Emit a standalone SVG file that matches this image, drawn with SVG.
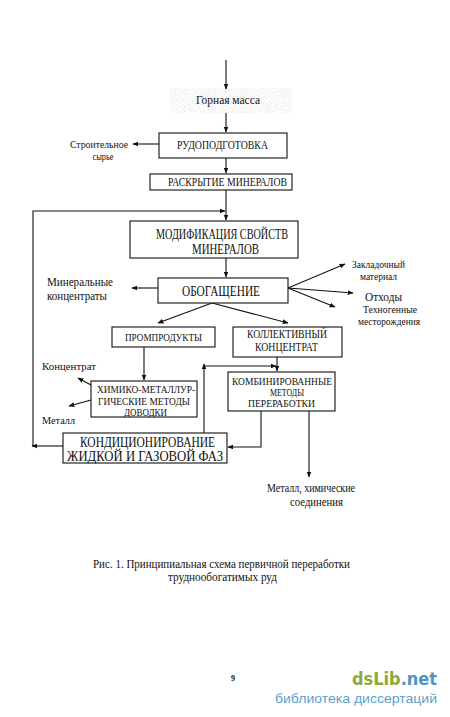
<svg xmlns="http://www.w3.org/2000/svg" width="450" height="717" viewBox="0 0 450 717">
<style>
text{font-family:"Liberation Serif","Times New Roman",serif;fill:#111}
.b{fill:#fff;stroke:#111;stroke-width:1.1}
.s{font-size:10.5px}
.m{font-size:11.5px}
.l{font-size:14px}
.c{text-anchor:middle}
.ln{fill:none;stroke:#111;stroke-width:1.1}
</style>
<defs>
<marker id="a" viewBox="0 0 10 10" refX="9" refY="5" markerWidth="6" markerHeight="6" orient="auto" markerUnits="userSpaceOnUse">
<path d="M0,1 L10,5 L0,9 z" fill="#111"/>
</marker>
<filter id="n" x="0" y="0" width="1" height="1">
<feTurbulence type="fractalNoise" baseFrequency="0.9" numOctaves="2" seed="3"/>
<feColorMatrix type="matrix" values="0 0 0 0 0.5  0 0 0 0 0.5  0 0 0 0 0.5  0 0 0 -2.2 1.35"/>
</filter>
</defs>
<rect width="450" height="717" fill="#fff"/>
<rect x="170" y="88" width="122" height="25" fill="#fff" filter="url(#n)" opacity="0.35"/>

<g id="connectors" class="ln">
<line x1="226" y1="60" x2="226" y2="89" marker-end="url(#a)"/>
<line x1="226" y1="113" x2="226" y2="132" marker-end="url(#a)"/>
<line x1="159" y1="144" x2="133" y2="144" marker-end="url(#a)"/>
<line x1="226" y1="158" x2="226" y2="173" marker-end="url(#a)"/>
<line x1="226" y1="190" x2="226" y2="220" marker-end="url(#a)"/>
<line x1="63" y1="446" x2="32" y2="446" marker-end="url(#a)"/>
<polyline points="33,446 33,211 225,211" marker-end="url(#a)"/>
<line x1="226" y1="258" x2="226" y2="277" marker-end="url(#a)"/>
<line x1="158" y1="288" x2="132" y2="288" marker-end="url(#a)"/>
<line x1="288" y1="288" x2="345" y2="264" marker-end="url(#a)"/>
<line x1="288" y1="288" x2="353" y2="293" marker-end="url(#a)"/>
<line x1="288" y1="288" x2="335" y2="307" marker-end="url(#a)"/>
<line x1="212" y1="303" x2="158" y2="323" marker-end="url(#a)"/>
<line x1="212" y1="303" x2="288" y2="323" marker-end="url(#a)"/>
<line x1="144" y1="347" x2="144" y2="380" marker-end="url(#a)"/>
<line x1="91" y1="385" x2="78" y2="378" marker-end="url(#a)"/>
<line x1="91" y1="400" x2="69" y2="406" marker-end="url(#a)"/>
<line x1="277" y1="357" x2="277" y2="371" marker-end="url(#a)"/>
<line x1="204" y1="433" x2="204" y2="364" marker-end="url(#a)"/>
<line x1="204" y1="366" x2="276" y2="366" marker-end="url(#a)"/>
<polyline points="261,411 261,447 228,447" marker-end="url(#a)"/>
<line x1="309" y1="411" x2="309" y2="477" marker-end="url(#a)"/>
</g>

<g id="gornaya">
<text x="228" y="104" class="m c" textLength="64" lengthAdjust="spacingAndGlyphs">Горная масса</text>
</g>
<g id="rudopodgotovka">
<rect class="b" x="159" y="133" width="128" height="25"/>
<text x="222.5" y="149" class="m c" textLength="91" lengthAdjust="spacingAndGlyphs">РУДОПОДГОТОВКА</text>
</g>
<g id="stroit">
<text x="99" y="148" class="s c" textLength="58" lengthAdjust="spacingAndGlyphs">Строительное</text>
<text x="103" y="160" class="s c" textLength="21" lengthAdjust="spacingAndGlyphs">сырье</text>
</g>
<g id="raskrytie">
<rect class="b" x="150" y="174" width="142" height="16"/>
<text x="227.5" y="186" class="m c" textLength="119" lengthAdjust="spacingAndGlyphs">РАСКРЫТИЕ МИНЕРАЛОВ</text>
</g>
<g id="modifikaciya">
<rect class="b" x="130" y="221" width="168" height="37"/>
<text x="222" y="239" class="l c" textLength="132" lengthAdjust="spacingAndGlyphs">МОДИФИКАЦИЯ СВОЙСТВ</text>
<text x="225.5" y="254" class="l c" textLength="67" lengthAdjust="spacingAndGlyphs">МИНЕРАЛОВ</text>
</g>
<g id="obogashchenie">
<rect class="b" x="158" y="278" width="130" height="25"/>
<text x="221" y="296" class="l c" textLength="78" lengthAdjust="spacingAndGlyphs">ОБОГАЩЕНИЕ</text>
</g>
<g id="mineral">
<text x="47" y="286" class="m" textLength="66" lengthAdjust="spacingAndGlyphs">Минеральные</text>
<text x="47" y="300" class="m" textLength="60" lengthAdjust="spacingAndGlyphs">концентраты</text>
</g>
<g id="zaklad">
<text x="352" y="268" class="s" textLength="53" lengthAdjust="spacingAndGlyphs">Закладочный</text>
<text x="360" y="280" class="s" textLength="37" lengthAdjust="spacingAndGlyphs">материал</text>
</g>
<g id="othody">
<text x="365" y="301" style="font-size:13px" textLength="37" lengthAdjust="spacingAndGlyphs">Отходы</text>
</g>
<g id="tehnogen">
<text x="363" y="313" class="s" textLength="54" lengthAdjust="spacingAndGlyphs">Техногенные</text>
<text x="358" y="325" class="s" textLength="62" lengthAdjust="spacingAndGlyphs">месторождения</text>
</g>
<g id="promprodukty">
<rect class="b" x="112" y="327" width="103" height="20"/>
<text x="163.5" y="341" class="s c" textLength="77" lengthAdjust="spacingAndGlyphs">ПРОМПРОДУКТЫ</text>
</g>
<g id="kollektivny">
<rect class="b" x="233" y="327" width="109" height="30"/>
<text x="287" y="338" class="m c" textLength="80" lengthAdjust="spacingAndGlyphs">КОЛЛЕКТИВНЫЙ</text>
<text x="286.5" y="351" class="m c" textLength="63" lengthAdjust="spacingAndGlyphs">КОНЦЕНТРАТ</text>
</g>
<g id="himiko">
<rect class="b" x="91" y="381" width="106" height="36"/>
<text x="146" y="393" class="s c" textLength="98" lengthAdjust="spacingAndGlyphs">ХИМИКО-МЕТАЛЛУР-</text>
<text x="144" y="405" class="s c" textLength="92" lengthAdjust="spacingAndGlyphs">ГИЧЕСКИЕ МЕТОДЫ</text>
<text x="145.5" y="416" class="s c" textLength="43" lengthAdjust="spacingAndGlyphs">ДОВОДКИ</text>
</g>
<g id="koncentrat">
<text x="42" y="370" class="s" textLength="54" lengthAdjust="spacingAndGlyphs">Концентрат</text>
</g>
<g id="metall">
<text x="42" y="424" class="s" textLength="33" lengthAdjust="spacingAndGlyphs">Металл</text>
</g>
<g id="kombinirovannye">
<rect class="b" x="228" y="372" width="107" height="39"/>
<text x="282" y="385" class="s c" textLength="100" lengthAdjust="spacingAndGlyphs">КОМБИНИРОВАННЫЕ</text>
<text x="287" y="396" class="s c" textLength="34" lengthAdjust="spacingAndGlyphs">МЕТОДЫ</text>
<text x="281.5" y="407" class="s c" textLength="67" lengthAdjust="spacingAndGlyphs">ПЕРЕРАБОТКИ</text>
</g>
<g id="kondicionirovanie">
<rect class="b" x="63" y="433" width="164" height="30"/>
<text x="147.5" y="447" class="l c" textLength="135" lengthAdjust="spacingAndGlyphs">КОНДИЦИОНИРОВАНИЕ</text>
<text x="145" y="461" class="l c" textLength="156" lengthAdjust="spacingAndGlyphs">ЖИДКОЙ И ГАЗОВОЙ ФАЗ</text>
</g>
<g id="metall-him">
<text x="311" y="492" class="m c" textLength="88" lengthAdjust="spacingAndGlyphs">Металл, химические</text>
<text x="316.5" y="506" class="m c" textLength="53" lengthAdjust="spacingAndGlyphs">соединения</text>
</g>
<g id="caption">
<text x="221.5" y="568" class="m c" textLength="257" lengthAdjust="spacingAndGlyphs">Рис. 1. Принципиальная схема первичной переработки</text>
<text x="222.5" y="581" class="m c" textLength="109" lengthAdjust="spacingAndGlyphs">труднообогатимых руд</text>
</g>
<text x="233" y="681" style="font-size:8px;font-weight:bold" class="c">9</text>
<g id="watermark">
<text x="352" y="685" style="font-family:'DejaVu Sans','Liberation Sans',sans-serif;font-size:17px;font-weight:bold" textLength="85" lengthAdjust="spacingAndGlyphs"><tspan fill="#8aab3c">dsLib</tspan><tspan fill="#4f93c6">.net</tspan></text>
<text x="275" y="703" style="font-family:'Liberation Sans',Arial,sans-serif;font-size:13px;fill:#5a9fd0" textLength="162" lengthAdjust="spacingAndGlyphs">библиотека диссертаций</text>
</g>
</svg>
